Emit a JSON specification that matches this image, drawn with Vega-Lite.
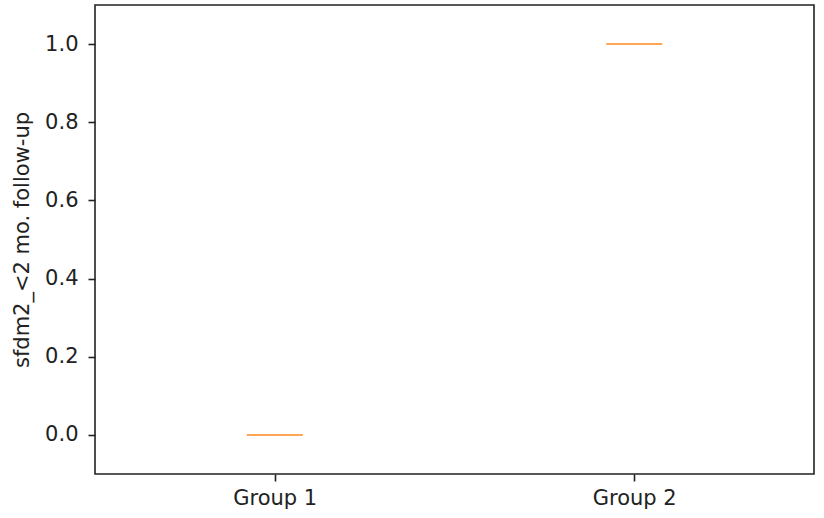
{
  "$schema": "https://vega.github.io/schema/vega-lite/v6.json",
  "width": 719,
  "height": 469,
  "autosize": {"type": "none"},
  "padding": {"left": 95, "top": 5, "right": 10, "bottom": 44},
  "background": "white",
  "config": {
    "view": {"stroke": "#222222", "strokeWidth": 1.6},
    "font": "DejaVu Sans",
    "axis": {
      "grid": false,
      "domain": false,
      "tickColor": "#222222",
      "tickSize": 7,
      "tickWidth": 1.6,
      "labelColor": "#222222",
      "labelFont": "DejaVu Sans",
      "labelFontSize": 21,
      "titleFont": "DejaVu Sans",
      "titleFontSize": 21,
      "titleFontWeight": "normal",
      "titleColor": "#222222",
      "labelPadding": 6
    },
    "axisY": {"labelPadding": 10}
  },
  "data": {
    "values": [
      {"group": "Group 1", "stat": "median", "value": 0},
      {"group": "Group 2", "stat": "median", "value": 1}
    ]
  },
  "mark": {"type": "tick", "orient": "horizontal", "color": "#ff7f0e", "size": 56, "thickness": 2},
  "encoding": {
    "x": {
      "field": "group",
      "type": "nominal",
      "scale": {"type": "point", "padding": 0.5},
      "axis": {"title": null, "labelAngle": 0}
    },
    "y": {
      "field": "value",
      "type": "quantitative",
      "scale": {"domain": [-0.1, 1.1], "nice": false, "zero": false},
      "axis": {"title": "sfdm2_<2 mo. follow-up", "values": [0, 0.2, 0.4, 0.6, 0.8, 1.0], "format": ".1f", "titlePadding": 12}
    }
  }
}
